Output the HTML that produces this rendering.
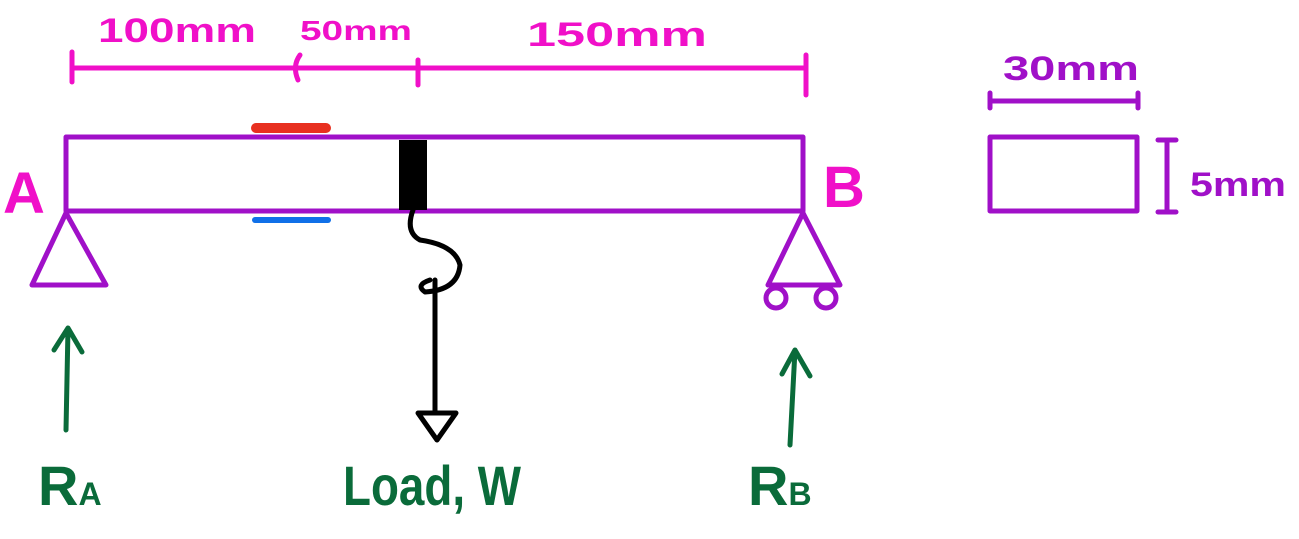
<!DOCTYPE html>
<html><head><meta charset="utf-8"><style>
html,body{margin:0;padding:0;background:#fff;width:1299px;height:539px;overflow:hidden}
text{font-family:"Liberation Sans",sans-serif;font-weight:bold}
</style></head><body>
<svg width="1299" height="539" viewBox="0 0 1299 539" xmlns="http://www.w3.org/2000/svg" fill="none" stroke-linecap="round" stroke-linejoin="round">
<g stroke="#f010c8" stroke-width="5">
<line x1="72" y1="68" x2="806" y2="68"/>
<line x1="72" y1="52" x2="72" y2="82"/>
<path d="M300 55 Q292 66 298 80"/>
<line x1="418" y1="60" x2="418" y2="85"/>
<line x1="806" y1="55" x2="806" y2="95"/>
</g>
<g fill="#f010c8" font-size="34">
<text x="98" y="42" textLength="158" lengthAdjust="spacingAndGlyphs">100mm</text>
<text x="300" y="40" font-size="28" textLength="112" lengthAdjust="spacingAndGlyphs">50mm</text>
<text x="527" y="46" textLength="180" lengthAdjust="spacingAndGlyphs">150mm</text>
<text x="3" y="213" font-size="58" font-weight="normal">A</text>
<text x="823" y="207" font-size="58" font-weight="normal">B</text>
</g>
<g stroke="#a010c8" stroke-width="5">
<rect x="66" y="137" width="737" height="74"/>
<path d="M66 213 L32 285 L106 285 Z"/>
<path d="M803 213 L768 285 L840 285 Z"/>
<circle cx="776" cy="298" r="10"/>
<circle cx="826" cy="298" r="10"/>
<line x1="990" y1="101" x2="1138" y2="101"/>
<line x1="990" y1="93" x2="990" y2="108"/>
<line x1="1138" y1="93" x2="1138" y2="108"/>
<rect x="990" y="137" width="147" height="74"/>
<line x1="1167" y1="140" x2="1167" y2="212"/>
<line x1="1158" y1="140" x2="1176" y2="140"/>
<line x1="1158" y1="212" x2="1176" y2="212"/>
</g>
<g fill="#a010c8">
<text x="1003" y="80" font-size="34" textLength="136" lengthAdjust="spacingAndGlyphs">30mm</text>
<text x="1190" y="196" font-size="34" textLength="96" lengthAdjust="spacingAndGlyphs">5mm</text>
</g>
<line x1="256" y1="128" x2="326" y2="128" stroke="#e83020" stroke-width="10"/>
<line x1="255" y1="220" x2="328" y2="220" stroke="#1070e8" stroke-width="6"/>
<rect x="399" y="140" width="28" height="70" fill="#000"/>
<g stroke="#000" stroke-width="5">
<path d="M413 210 Q405 232 420 240 Q455 245 460 265 Q458 290 425 292 Q415 285 430 280"/>
<line x1="435" y1="280" x2="435" y2="413"/>
<path d="M418 413 L456 413 L437 440 Z"/>
</g>
<g stroke="#0a6b3a" stroke-width="5">
<path d="M66 430 L68 328 M54 350 L68 328 L82 352"/>
<path d="M790 445 L795 350 M782 374 L795 350 L810 376"/>
</g>
<g fill="#0a6b3a" font-size="56">
<text x="38" y="505" font-weight="normal">R<tspan font-size="32">A</tspan></text>
<text x="343" y="505" textLength="178" lengthAdjust="spacingAndGlyphs" font-weight="normal">Load, W</text>
<text x="748" y="505" font-weight="normal">R<tspan font-size="32">B</tspan></text>
</g>
</svg>
</body></html>
